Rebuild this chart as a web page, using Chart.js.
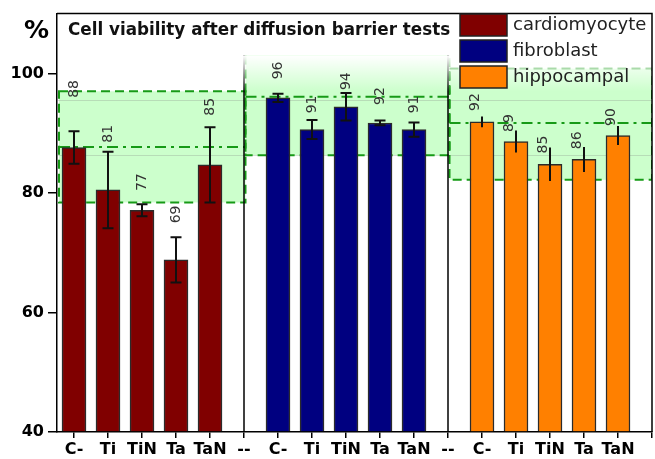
<!DOCTYPE html>
<html><head><meta charset="utf-8">
<script src="https://cdn.jsdelivr.net/npm/chart.js@4.4.1/dist/chart.umd.min.js"></script>
<style>html,body{margin:0;padding:0;background:#fff;}#wrap{width:655px;height:459px;}</style>
</head><body><div id="wrap"><canvas id="c" width="655" height="459"></canvas></div>
<script>
// ---- data ----
const categories = ['C-','Ti','TiN','Ta','TaN','--','C-','Ti','TiN','Ta','TaN','--','C-','Ti','TiN','Ta','TaN'];
const seriesNames = ['cardiomyocyte','fibroblast','hippocampal'];
const cardioValues = [87.6, 80.5, 77.1, 68.8, 84.7];
const cardioErrors = [2.7, 6.4, 1.0, 3.8, 6.3];
const cardioLabels = ['88','81','77','69','85'];
const fibroValues = [95.9, 90.6, 94.4, 91.7, 90.6];
const fibroErrors = [0.7, 1.6, 2.3, 0.4, 1.2];
const fibroLabels = ['96','91','94','92','91'];
const hippoValues = [91.9, 88.6, 84.8, 85.6, 89.6];
const hippoErrors = [0.9, 1.85, 2.8, 2.1, 1.6];
const hippoLabels = ['92','89','85','86','90'];
const yTicks = [40, 60, 80, 100];
// reference bands per cell type: control line, lower and upper limit
const bandControl = [87.7, 96.1, 91.7];
const bandLow = [78.4, 86.3, 82.2];
const bandHigh = [97.0, 105.9, 100.8];
// value at which each number label sits
const cardioLabelAt = [97.4, 89.9, 81.8, 76.4, 94.4];
const fibroLabelAt = [100.5, 94.8, 98.7, 96.2, 94.8];
const hippoLabelAt = [95.2, 91.7, 88.1, 88.8, 92.7];
const titleText = 'Cell viability after diffusion barrier tests';
const unitText = '%';

const FONT = 'DejaVu Sans';
const groupSize = 6; // 5 categories + separator
function pts(g, vals){ return vals.map((v,i)=>({x: g*groupSize + i + 1, y: v})); }

const ds = [
  {label: seriesNames[0], data: pts(0, cardioValues), err: cardioErrors, txt: cardioLabels, txtAt: cardioLabelAt,
   backgroundColor:'#800000', cap: 11, shift: 0},
  {label: seriesNames[1], data: pts(1, fibroValues), err: fibroErrors, txt: fibroLabels, txtAt: fibroLabelAt,
   backgroundColor:'#000080', cap: 11, shift: 0},
  {label: seriesNames[2], data: pts(2, hippoValues), err: hippoErrors, txt: hippoLabels, txtAt: hippoLabelAt,
   backgroundColor:'#ff8000', cap: 0, shift: -7}
].map(d => Object.assign(d, {borderColor:'#2b2b2b', borderWidth:1.5, barThickness:24, grouped:false, base:40, borderSkipped:'start'}));

const bandsPlugin = {
  id:'bands',
  beforeDatasetsDraw(chart){
    const {ctx, chartArea:a, scales:{x, y}} = chart;
    ctx.save();
    ctx.beginPath(); ctx.rect(a.left, a.top, a.right-a.left, a.bottom-a.top); ctx.clip();
    const spans = [[0.5, 6], [6, 12], [12, 18]];
    for (let g=0; g<3; g++){
      const x0 = x.getPixelForValue(spans[g][0]) + (g===0?2:1.5);
      const x1 = x.getPixelForValue(spans[g][1]) + (g===2?0:1.5);
      const yt = y.getPixelForValue(bandHigh[g]), yb = y.getPixelForValue(bandLow[g]);
      ctx.fillStyle = '#ccffcc';
      ctx.fillRect(x0, yt, x1-x0, yb-yt);
    }
    // faint lines seen through the bands
    ctx.strokeStyle = 'rgba(120,120,120,0.25)'; ctx.lineWidth = 1;
    [86.3, 95.6].forEach(v=>{ const yy = Math.round(y.getPixelForValue(v))+0.5;
      ctx.beginPath(); ctx.moveTo(a.left, yy); ctx.lineTo(a.right, yy); ctx.stroke(); });
    ctx.strokeStyle = '#169a16'; ctx.lineWidth = 2;
    for (let g=0; g<3; g++){
      const x0 = x.getPixelForValue(spans[g][0]) + (g===0?2:1.5);
      const x1 = x.getPixelForValue(spans[g][1]) + (g===2?0:1.5);
      const yt = y.getPixelForValue(bandHigh[g]), yb = y.getPixelForValue(bandLow[g]);
      ctx.setLineDash([9,5]);
      ctx.strokeRect(x0, yt, x1-x0, yb-yt);
      ctx.setLineDash([11,5,3,5]);
      const yc = y.getPixelForValue(bandControl[g]);
      ctx.beginPath(); ctx.moveTo(x0, yc); ctx.lineTo(x1, yc); ctx.stroke();
    }
    ctx.setLineDash([]);
    // group separators
    ctx.strokeStyle = '#000'; ctx.lineWidth = 1.5;
    [6, 12].forEach(v=>{ const xx = x.getPixelForValue(v);
      ctx.beginPath(); ctx.moveTo(xx, a.top); ctx.lineTo(xx, a.bottom); ctx.stroke(); });
    // white fade below title/legend
    const yo = y.getPixelForValue(103), ytr = y.getPixelForValue(97);
    const gr = ctx.createLinearGradient(0, yo, 0, ytr);
    gr.addColorStop(0, 'rgba(255,255,255,1)'); gr.addColorStop(1, 'rgba(255,255,255,0)');
    const xs = x.getPixelForValue(6) - 1;
    ctx.fillStyle = '#fff'; ctx.fillRect(xs, a.top, a.right-xs, yo-a.top);
    ctx.fillStyle = gr; ctx.fillRect(xs, yo, a.right-xs, ytr-yo);
    ctx.restore();
  },
  afterDatasetsDraw(chart){
    const {ctx, chartArea:a, scales:{x, y}} = chart;
    ctx.save();
    chart.data.datasets.forEach((d, di)=>{
      const meta = chart.getDatasetMeta(di);
      meta.data.forEach((bar, i)=>{
        const v = d.data[i].y, e = d.err[i];
        const yt = y.getPixelForValue(v+e), yb = y.getPixelForValue(v-e);
        ctx.strokeStyle = '#111'; ctx.lineWidth = 2;
        ctx.beginPath(); ctx.moveTo(bar.x, yt); ctx.lineTo(bar.x, yb);
        if (d.cap){ ctx.moveTo(bar.x-d.cap/2, yt); ctx.lineTo(bar.x+d.cap/2, yt);
          ctx.moveTo(bar.x-d.cap/2, yb); ctx.lineTo(bar.x+d.cap/2, yb); }
        ctx.stroke();
        // rotated number label
        ctx.save();
        ctx.translate(bar.x + d.shift, y.getPixelForValue(d.txtAt[i]));
        ctx.rotate(-Math.PI/2);
        ctx.fillStyle = '#333'; ctx.font = '14px "' + FONT + '"';
        ctx.textAlign = 'center'; ctx.textBaseline = 'middle';
        ctx.fillText(d.txt[i], 0, 0);
        ctx.restore();
      });
    });
    // frame top/right
    ctx.strokeStyle = '#000'; ctx.lineWidth = 1.5;
    ctx.beginPath(); ctx.moveTo(a.left, a.top); ctx.lineTo(a.right, a.top); ctx.lineTo(a.right, a.bottom); ctx.stroke();
    // title
    ctx.fillStyle = '#111'; ctx.font = 'bold 16.8px "' + FONT + '"';
    ctx.textAlign = 'left'; ctx.textBaseline = 'middle';
    ctx.fillText(titleText, 68, 31);
    // unit
    ctx.fillStyle = '#000'; ctx.font = 'bold 25px "' + FONT + '"';
    ctx.fillText(unitText, 24, 31);
    // legend
    chart.data.datasets.forEach((d, di)=>{
      const top = 14 + di*26;
      ctx.fillStyle = d.backgroundColor; ctx.fillRect(460, top, 47, 22);
      ctx.strokeStyle = '#222'; ctx.lineWidth = 1.5; ctx.strokeRect(460, top, 47, 22);
      ctx.fillStyle = '#222'; ctx.font = '18px "' + FONT + '"'; ctx.textBaseline = 'middle';
      ctx.fillText(d.label, 513, top + 11);
    });
    ctx.restore();
  }
};

new Chart(document.getElementById('c'), {
  type:'bar',
  data:{ datasets: ds },
  options:{
    responsive:false, animation:false,
    layout:{padding:{left:0, top:10, right:3, bottom:0}},
    plugins:{legend:{display:false}, title:{display:false}, tooltip:{enabled:false}},
    scales:{
      x:{ type:'linear', min:0.5, max:18, offset:false,
        afterBuildTicks: s => { s.ticks = categories.map((c,i)=>({value:i+1})).concat([{value:18}]); },
        ticks:{ callback: v => categories[v-1] ?? '', autoSkip:false, maxRotation:0, minRotation:0,
          font:{family:FONT, weight:'bold', size:16}, color:'#000', padding:2 },
        grid:{ offset:false, drawOnChartArea:false, drawTicks:true, tickLength:6, color:'#000', lineWidth:1.5 },
        border:{ display:true, color:'#000', width:1.5 },
        afterFit: s => { s.height = 27; }
      },
      y:{ min:40, max:110,
        afterBuildTicks: s => { s.ticks = yTicks.map(v=>({value:v})); },
        ticks:{ font:{family:FONT, weight:'bold', size:16}, color:'#000', padding:4 },
        grid:{ drawOnChartArea:false, drawTicks:true, tickLength:9, color:'#000', lineWidth:1.5 },
        border:{ display:true, color:'#000', width:1.5 },
        afterFit: s => { s.width = 57; }
      }
    }
  },
  plugins:[bandsPlugin]
});
</script></body></html>
